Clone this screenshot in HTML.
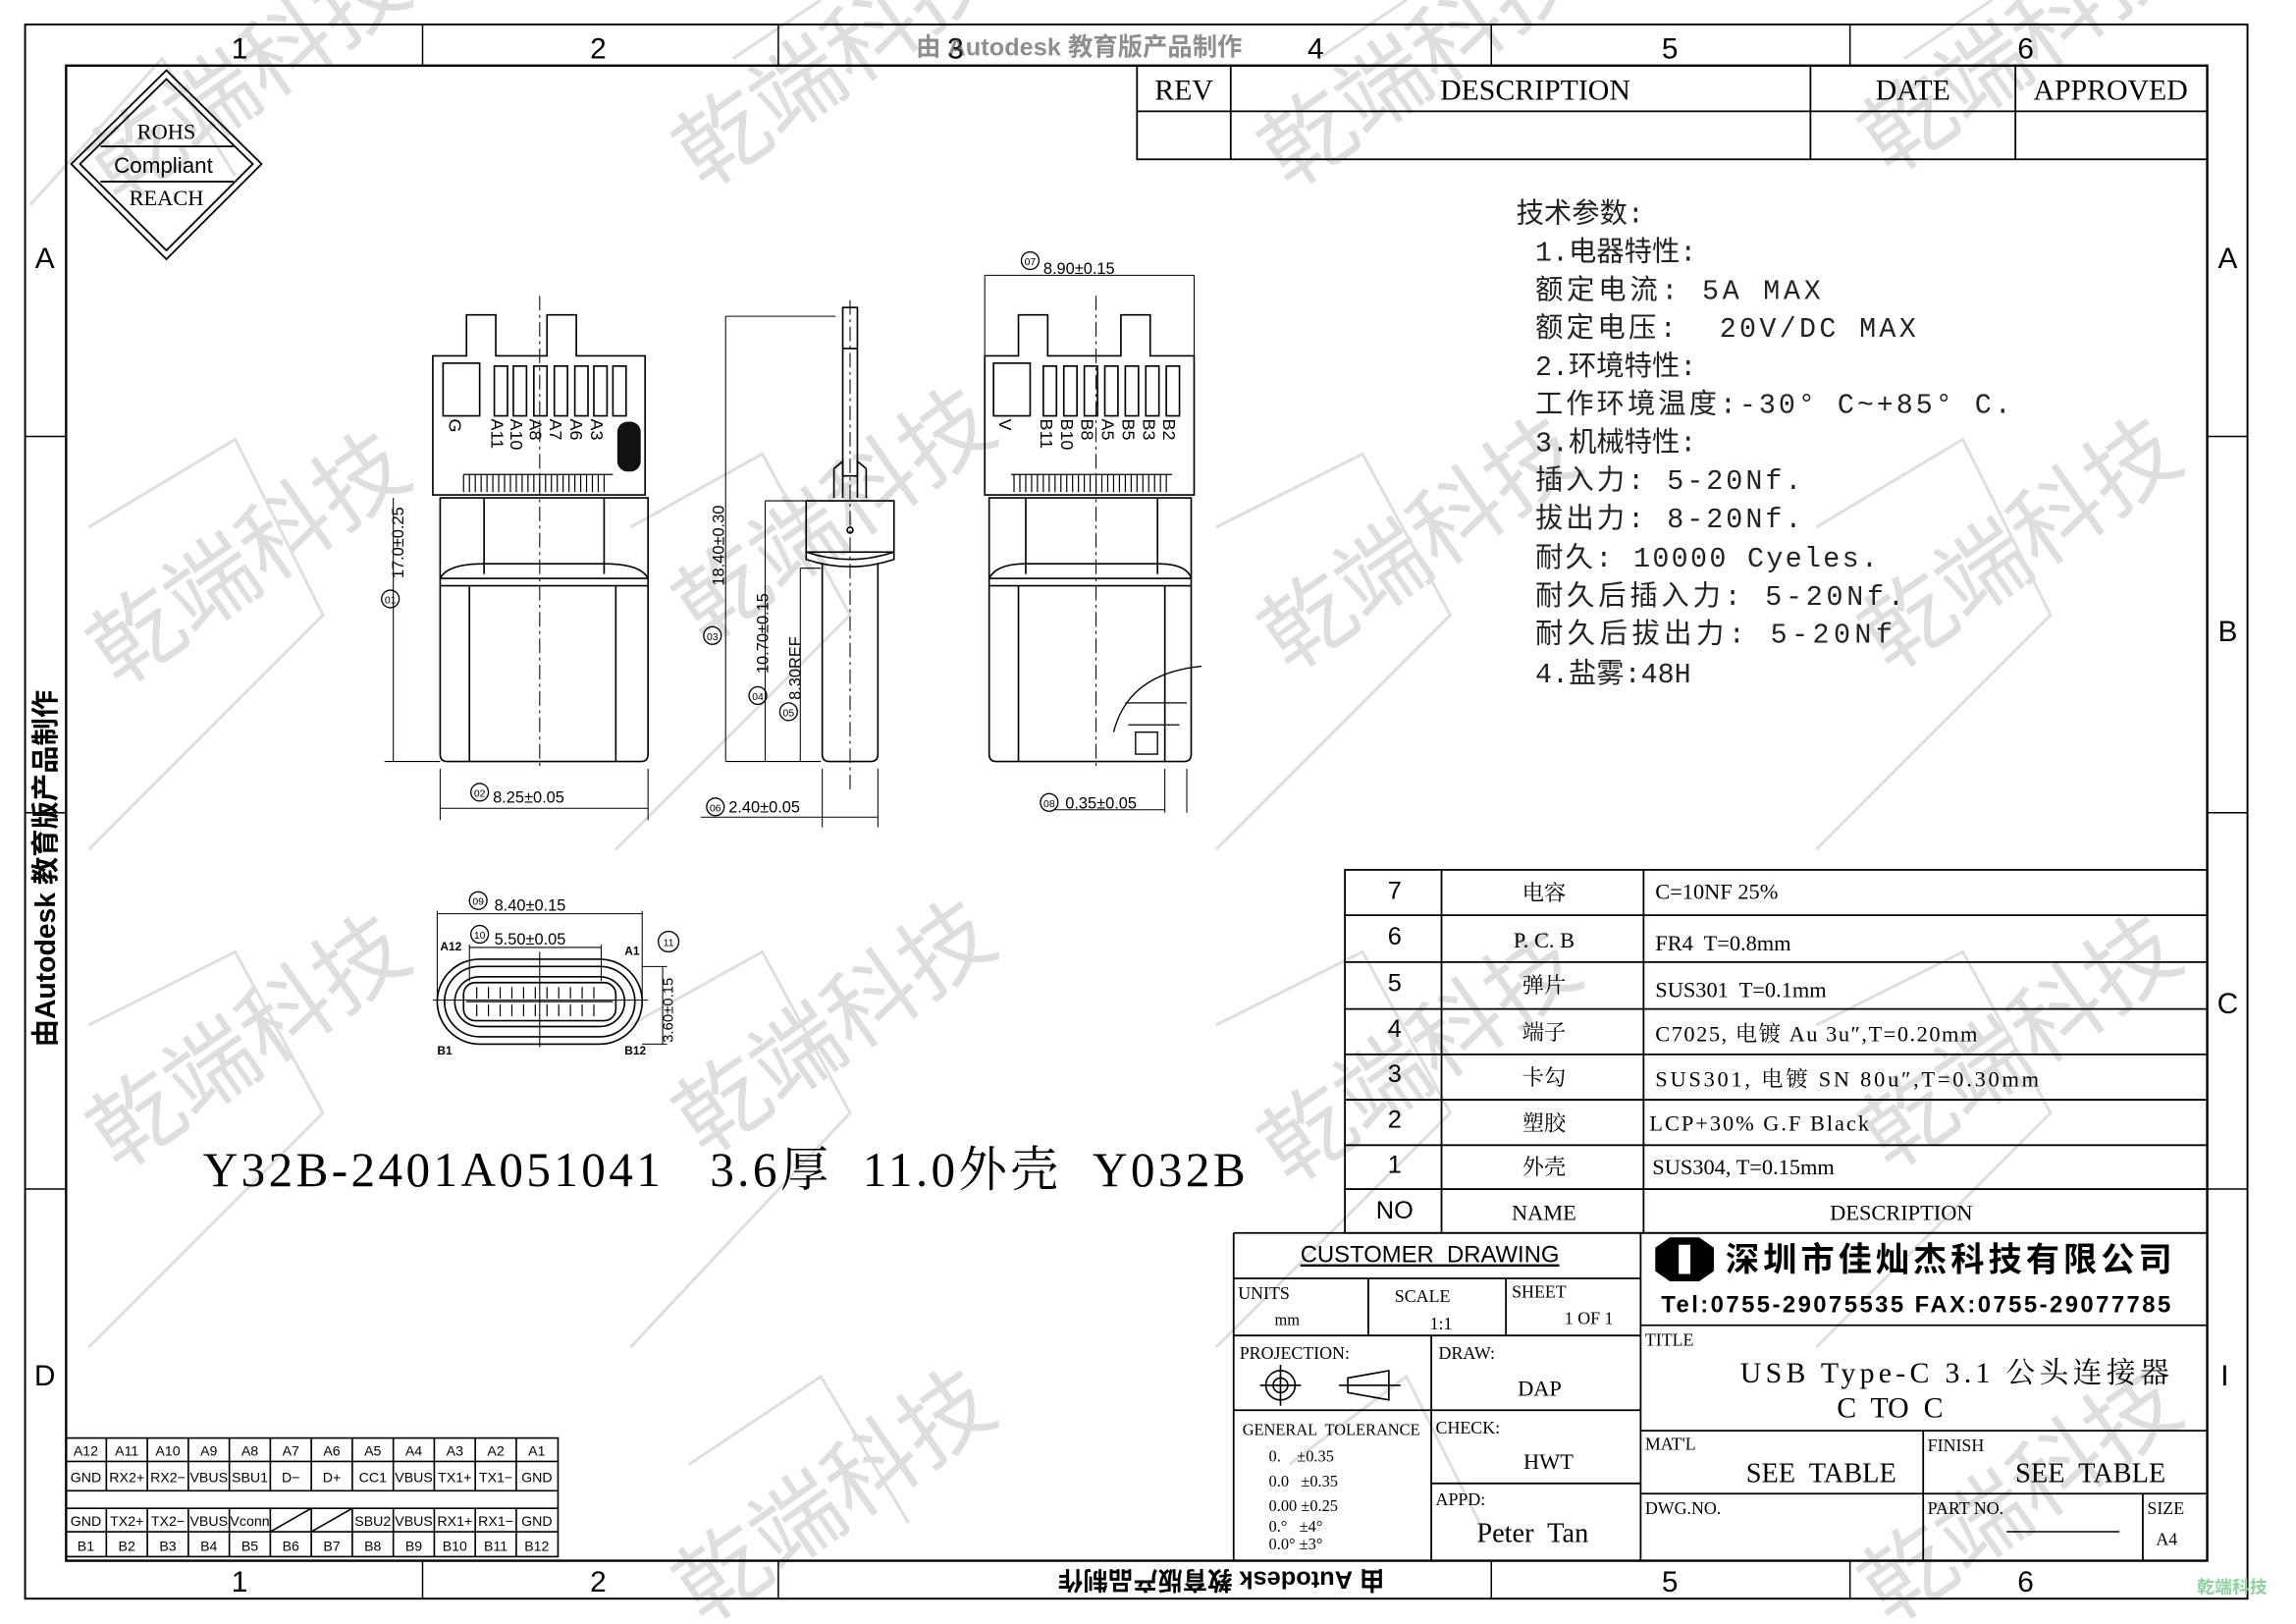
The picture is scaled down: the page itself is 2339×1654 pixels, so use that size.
<!DOCTYPE html>
<html><head><meta charset="utf-8"><style>
html,body{margin:0;padding:0;background:#fff;}
svg{display:block;}
svg text{white-space:pre;}
.s{font-family:"Liberation Serif","Noto Serif CJK SC",serif;}
.a{font-family:"Liberation Sans","Noto Sans CJK SC",sans-serif;}
.m{font-family:"Liberation Mono","Noto Sans CJK SC",monospace;}
</style></head><body>
<svg width="2339" height="1654" viewBox="0 0 1567 1109" xmlns="http://www.w3.org/2000/svg" xml:space="preserve">
<rect width="1567" height="1109" fill="#fff"/>
<g fill="#dedede" font-family="Noto Sans CJK SC,sans-serif" font-size="62">
<text transform="translate(80,470) rotate(-35)">乾端科技</text>
<text transform="translate(480,440) rotate(-35)">乾端科技</text>
<text transform="translate(880,460) rotate(-35)">乾端科技</text>
<text transform="translate(1290,460) rotate(-35)">乾端科技</text>
<text transform="translate(80,800) rotate(-35)">乾端科技</text>
<text transform="translate(480,790) rotate(-35)">乾端科技</text>
<text transform="translate(880,810) rotate(-35)">乾端科技</text>
<text transform="translate(1290,800) rotate(-35)">乾端科技</text>
<text transform="translate(80,140) rotate(-35)">乾端科技</text>
<text transform="translate(480,130) rotate(-35)">乾端科技</text>
<text transform="translate(880,130) rotate(-35)">乾端科技</text>
<text transform="translate(1290,120) rotate(-35)">乾端科技</text>
<text transform="translate(480,1110) rotate(-35)">乾端科技</text>
<text transform="translate(1290,1110) rotate(-35)">乾端科技</text>
</g>
<g stroke="#dedede" stroke-width="2" fill="none">
<path d="M20,140 L110,40 L160,120 M60,360 L160,300 L220,420 L60,580"/>
<path d="M430,360 L520,310 L580,420 L420,580 M500,40 L560,0"/>
<path d="M830,360 L930,310 L990,420 L830,580 M900,40 L960,0"/>
<path d="M1240,360 L1340,300 L1400,420 L1240,580 M1300,40 L1360,0"/>
<path d="M60,700 L160,650 L220,760 L60,920 M430,700 L520,650 L580,760 L430,920"/>
<path d="M830,700 L930,650 L990,760 L830,920 M1240,700 L1340,650 L1400,760 L1240,920"/>
<path d="M470,1000 L560,940 L620,1040 M880,1000 L960,940 L1010,1040"/>
</g>

<g fill="none" stroke="#000">
<rect x="16.5" y="16.7" width="1518" height="1075" stroke-width="1.3"/>
<rect x="44.5" y="44.8" width="1462.5" height="1021" stroke-width="1.6"/>
<path d="M288,17V45 M531,17V45 M1018,17V45 M1263,17V45 M288,1066V1092 M531,1066V1092 M1018,1066V1092 M1263,1066V1092" stroke-width="1"/>
<path d="M17,298H45 M17,555H45 M17,812H45 M1507,298H1535 M1507,555H1535 M1507,812H1535" stroke-width="1"/>
</g>
<g class="a" font-size="20" fill="#000" text-anchor="middle">
<text x="163" y="40">1</text><text x="408" y="40">2</text><text x="652" y="40">3</text><text x="898" y="40">4</text><text x="1140" y="40">5</text><text x="1383" y="40">6</text>
<text x="163" y="1087">1</text><text x="408" y="1087">2</text><text x="1140" y="1087">5</text><text x="1383" y="1087">6</text>
<text x="30" y="183">A</text><text x="30" y="946">D</text>
<text x="1521" y="183">A</text><text x="1521" y="438">B</text><text x="1521" y="692">C</text><text x="1519" y="946">I</text>
</g>
<g class="a" font-weight="bold" fill="#000" font-size="19">
<text transform="translate(37,715) rotate(-90)">由Autodesk 教育版产品制作</text>
<text x="625" y="38" font-size="17" fill="#444" opacity="0.6">由 Autodesk 教育版产品制作</text>
<text transform="translate(945,1073) rotate(180)" font-size="17">由 Autodesk 教育版产品制作</text>
</g>
<text x="1500" y="1088" class="a" font-size="12" fill="#8fd0a0" font-weight="bold">乾端科技</text>

<g fill="none" stroke="#000" stroke-width="1.2">
<path d="M113,48 L178,112 L113,177 L48,112Z"/><path d="M113,54 L172,112 L113,171 L54,112Z"/>
<path d="M68,100H159 M68,124H159"/>
</g>
<g class="s" font-size="15" text-anchor="middle"><text x="113" y="95">ROHS</text><text x="113" y="140">REACH</text></g>
<text x="111" y="118" class="a" font-size="15" text-anchor="middle">Compliant</text>

<g fill="none" stroke="#000" stroke-width="1.2">
<rect x="776" y="44.8" width="731" height="64"/>
<path d="M776,76H1507 M840,45V109 M1236,45V109 M1376,45V109"/>
</g>
<g class="s" font-size="20" text-anchor="middle">
<text x="808" y="68">REV</text><text x="1048" y="68">DESCRIPTION</text><text x="1306" y="68">DATE</text><text x="1441" y="68">APPROVED</text>
</g>

<g class="m" font-size="19" fill="#222">
<text x="1035" y="152">技术参数:</text>
<text x="1048" y="178">1.电器特性:</text>
<text x="1048" y="204" textLength="195">额定电流: 5A MAX</text>
<text x="1048" y="230" textLength="260">额定电压:  20V/DC MAX</text>
<text x="1048" y="256">2.环境特性:</text>
<text x="1048" y="282" textLength="325">工作环境温度:-30° C~+85° C.</text>
<text x="1048" y="308">3.机械特性:</text>
<text x="1048" y="334" textLength="182">插入力: 5-20Nf.</text>
<text x="1048" y="360" textLength="182">拔出力: 8-20Nf.</text>
<text x="1048" y="387" textLength="234">耐久: 10000 Cyeles.</text>
<text x="1048" y="413" textLength="252">耐久后插入力: 5-20Nf.</text>
<text x="1048" y="439" textLength="244">耐久后拔出力: 5-20Nf</text>
<text x="1048" y="466">4.盐雾:48H</text>
</g>

<g fill="none" stroke="#000" stroke-width="1.2">
<rect x="918" y="594" width="589" height="248"/>
<path d="M918,625H1507 M918,657H1507 M918,689H1507 M918,720H1507 M918,751H1507 M918,782H1507 M918,812H1507 M984,594V842 M1122,594V842"/>
</g>
<g class="a" font-size="17" text-anchor="middle">
<text x="952" y="614">7</text><text x="952" y="645">6</text><text x="952" y="677">5</text><text x="952" y="708">4</text><text x="952" y="739">3</text><text x="952" y="770">2</text><text x="952" y="801">1</text><text x="952" y="832">NO</text>
</g>
<g class="s" font-size="15" text-anchor="middle">
<text x="1054" y="615">电容</text><text x="1054" y="647">P. C. B</text><text x="1054" y="678">弹片</text><text x="1054" y="710">端子</text><text x="1054" y="741">卡勾</text><text x="1054" y="772">塑胶</text><text x="1054" y="802">外壳</text><text x="1054" y="833">NAME</text>
<text x="1298" y="833">DESCRIPTION</text>
</g>
<g class="s" font-size="15">
<text x="1130" y="614">C=10NF 25%</text><text x="1130" y="649">FR4  T=0.8mm</text><text x="1130" y="681">SUS301  T=0.1mm</text>
<text x="1130" y="711" textLength="220">C7025, 电镀 Au 3u″,T=0.20mm</text><text x="1130" y="742" textLength="262">SUS301, 电镀 SN 80u″,T=0.30mm</text>
<text x="1126" y="772" textLength="150">LCP+30% G.F Black</text><text x="1128" y="802">SUS304, T=0.15mm</text>
</g>

<g fill="none" stroke="#000" stroke-width="1.2">
<path d="M842,842H1507 M842,842V1066 M1120,842V1066 M842,873H1120 M842,912H1120 M934,873V912 M1028,873V912 M842,963H1120 M977,912V1066 M977,1013H1120 M1120,905H1507 M1120,977H1507 M1120,1020H1507 M1313,977V1066 M1463,1020V1066"/>
<path d="M1370,1046H1447" stroke-width="1"/>
</g>
<text x="976" y="862" class="a" font-size="16" text-anchor="middle" text-decoration="underline">CUSTOMER  DRAWING</text>
<g class="s" font-size="12">
<text x="845" y="887">UNITS</text><text x="870" y="905" font-size="11">mm</text>
<text x="952" y="889">SCALE</text><text x="976" y="908">1:1</text>
<text x="1032" y="886">SHEET</text><text x="1068" y="904">1 OF 1</text>
<text x="846" y="928">PROJECTION:</text><text x="982" y="928">DRAW:</text><text x="1036" y="953" font-size="15">DAP</text>
<text x="848" y="980" font-size="11">GENERAL  TOLERANCE</text>
<text x="866" y="998" font-size="11">0.    ±0.35</text><text x="866" y="1015" font-size="11">0.0   ±0.35</text>
<text x="866" y="1032" font-size="11">0.00 ±0.25</text><text x="866" y="1046" font-size="11">0.°   ±4°</text><text x="866" y="1058" font-size="11">0.0° ±3°</text>
<text x="980" y="979">CHECK:</text><text x="1040" y="1003" font-size="15">HWT</text>
<text x="980" y="1028">APPD:</text><text x="1008" y="1053" font-size="19">Peter  Tan</text>
<text x="1123" y="919">TITLE</text><text x="1123" y="990">MAT'L</text><text x="1316" y="991">FINISH</text>
<text x="1123" y="1034">DWG.NO.</text><text x="1316" y="1034">PART NO.</text><text x="1466" y="1034">SIZE</text><text x="1472" y="1055">A4</text>
<text x="1192" y="1012" font-size="19">SEE  TABLE</text><text x="1376" y="1012" font-size="19">SEE  TABLE</text>
<text x="1188" y="944" font-size="20" textLength="293">USB Type-C 3.1 公头连接器</text><text x="1254" y="968" font-size="20">C  TO  C</text>
</g>
<g fill="none" stroke="#000" stroke-width="1.1">
<circle cx="874" cy="946" r="10"/><circle cx="874" cy="946" r="5"/><path d="M860,946H888 M874,932V960 M914,946H956 M920,941L948,936V956L920,951Z"/>
</g>
<path d="M1130,852 L1140,845 L1160,845 L1170,852 L1170,868 L1160,875 L1140,875 L1130,868Z" fill="#000"/>
<path d="M1146,850 L1154,850 L1154,870 L1146,870Z" fill="#fff"/>
<text x="1178" y="868" font-family="Noto Sans CJK SC,sans-serif" font-size="23" font-weight="bold" textLength="305">深圳市佳灿杰科技有限公司</text>
<text x="1134" y="896" class="a" font-size="16" font-weight="bold" textLength="348">Tel:0755-29075535 FAX:0755-29077785</text>

<g fill="none" stroke="#000" stroke-width="1.1">
<rect x="44.5" y="982" width="336" height="81"/>
<path d="M44,998H380 M44,1018H380 M44,1030H380 M44,1046H380"/>
<path d="M72,982V1018 M100,982V1018 M128,982V1018 M156,982V1018 M184,982V1018 M212,982V1018 M240,982V1018 M268,982V1018 M296,982V1018 M324,982V1018 M352,982V1018"/>
<path d="M72,1030V1063 M100,1030V1063 M128,1030V1063 M156,1030V1063 M184,1030V1063 M212,1030V1063 M240,1030V1063 M268,1030V1063 M296,1030V1063 M324,1030V1063 M352,1030V1063"/>
<path d="M184,1046L212,1030 M212,1046L240,1030"/>
</g>
<g class="a" font-size="9.5" text-anchor="middle">
<text x="58" y="994">A12</text><text x="86" y="994">A11</text><text x="114" y="994">A10</text><text x="142" y="994">A9</text><text x="170" y="994">A8</text><text x="198" y="994">A7</text><text x="226" y="994">A6</text><text x="254" y="994">A5</text><text x="282" y="994">A4</text><text x="310" y="994">A3</text><text x="338" y="994">A2</text><text x="366" y="994">A1</text>
<text x="58" y="1012">GND</text><text x="86" y="1012">RX2+</text><text x="114" y="1012">RX2−</text><text x="142" y="1012">VBUS</text><text x="170" y="1012">SBU1</text><text x="198" y="1012">D−</text><text x="226" y="1012">D+</text><text x="254" y="1012">CC1</text><text x="282" y="1012">VBUS</text><text x="310" y="1012">TX1+</text><text x="338" y="1012">TX1−</text><text x="366" y="1012">GND</text>
<text x="58" y="1042">GND</text><text x="86" y="1042">TX2+</text><text x="114" y="1042">TX2−</text><text x="142" y="1042">VBUS</text><text x="170" y="1042">Vconn</text><text x="254" y="1042">SBU2</text><text x="282" y="1042">VBUS</text><text x="310" y="1042">RX1+</text><text x="338" y="1042">RX1−</text><text x="366" y="1042">GND</text>
<text x="58" y="1059">B1</text><text x="86" y="1059">B2</text><text x="114" y="1059">B3</text><text x="142" y="1059">B4</text><text x="170" y="1059">B5</text><text x="198" y="1059">B6</text><text x="226" y="1059">B7</text><text x="254" y="1059">B8</text><text x="282" y="1059">B9</text><text x="310" y="1059">B10</text><text x="338" y="1059">B11</text><text x="366" y="1059">B12</text>
</g>

<text x="138" y="810" class="s" font-size="33" textLength="712">Y32B-2401A051041   3.6厚  11.0外壳  Y032B</text>

<g fill="none" stroke="#000" stroke-width="1.1">
<path d="M295,243 H318 V215 H338 V243 H373 V215 H393 V243 H440 V338 H295Z"/>
<rect x="302" y="248" width="25" height="36"/>
<rect x="337" y="250" width="9" height="34"/><rect x="350" y="250" width="9" height="34"/><rect x="364" y="250" width="9" height="34"/><rect x="378" y="250" width="9" height="34"/><rect x="392" y="250" width="9" height="34"/><rect x="405" y="250" width="9" height="34"/><rect x="418" y="250" width="9" height="34"/>
<path d="M316,324 V336 M320,324V336 M324,324V336 M328,324V336 M332,324V336 M336,324V336 M340,324V336 M344,324V336 M348,324V336 M352,324V336 M356,324V336 M360,324V336 M364,324V336 M368,324V336 M372,324V336 M376,324V336 M380,324V336 M384,324V336 M388,324V336 M392,324V336 M396,324V336 M400,324V336 M404,324V336 M408,324V336 M412,324V336 M316,324H418" stroke-width="0.8"/>
<rect x="300" y="340" width="142" height="55"/><path d="M330,340V392 M412,340V392"/>
<path d="M300,395 Q305,385 330,385 H412 Q437,385 442,395 V515 Q442,520 437,520 H305 Q300,520 300,515Z"/>
<path d="M300,400H442 M320,400V520 M420,400V520"/>
<path d="M368,202 V525" stroke-dasharray="10,3,2,3" stroke-width="0.7"/>
<path d="M268,340V520 M262,520H300 M300,525V560 M442,525V560 M300,552H442" stroke-width="0.7"/>
</g>
<rect x="421" y="288" width="16" height="34" rx="7" fill="#111"/>
<g class="a" font-size="12" text-anchor="start">
<text transform="translate(306,286) rotate(90)">G</text>
<text transform="translate(335,286) rotate(90)">A11</text><text transform="translate(348,286) rotate(90)">A10</text><text transform="translate(361,286) rotate(90)">A8</text><text transform="translate(375,286) rotate(90)">A7</text><text transform="translate(389,286) rotate(90)">A6</text><text transform="translate(403,286) rotate(90)">A3</text>
<text transform="translate(275,395) rotate(-90)" font-size="11">17.0±0.25</text>
<text x="336" y="548" font-size="11">8.25±0.05</text>
</g>
<g fill="none" stroke="#000" stroke-width="0.9"><circle cx="266" cy="409" r="6"/><circle cx="327" cy="541" r="6"/></g>
<g class="a" font-size="7" text-anchor="middle"><text x="266" y="412">01</text><text x="327" y="544">02</text></g>

<g fill="none" stroke="#000" stroke-width="1.1">
<rect x="575" y="210" width="10" height="115"/><path d="M575,238H585"/>
<path d="M569,320 L575,315 V340 M591,320 L585,315 V340 M569,320V340 M591,320V340"/>
<rect x="550" y="342" width="60" height="35"/>
<path d="M550,377 Q580,387 610,377 V382 Q580,392 550,382Z"/>
<path d="M561,385 V515 Q561,520 566,520 H594 Q599,520 599,515 V385"/>
<circle cx="580" cy="362" r="2"/>
<path d="M580,205V540" stroke-dasharray="10,3,2,3" stroke-width="0.7"/>
<path d="M495,216H570 M495,216V520 M495,520H560 M522,342H550 M522,342V520 M546,388H560 M546,388V520 M561,525V565 M599,525V565 M478,558H599" stroke-width="0.7"/>
</g>
<g class="a" font-size="11">
<text transform="translate(494,400) rotate(-90)">18.40±0.30</text>
<text transform="translate(524,460) rotate(-90)">10.70±0.15</text>
<text transform="translate(546,478) rotate(-90)">8.30REF</text>
<text x="497" y="555">2.40±0.05</text>
</g>
<g fill="none" stroke="#000" stroke-width="0.9"><circle cx="486" cy="434" r="6"/><circle cx="517" cy="475" r="6"/><circle cx="538" cy="486" r="6"/><circle cx="488" cy="551" r="6"/></g>
<g class="a" font-size="7" text-anchor="middle"><text x="486" y="437">03</text><text x="517" y="478">04</text><text x="538" y="489">05</text><text x="488" y="554">06</text></g>

<g fill="none" stroke="#000" stroke-width="1.1">
<path d="M672,243 H695 V215 H715 V243 H765 V215 H785 V243 H815 V338 H672Z"/>
<rect x="678" y="248" width="25" height="36"/>
<rect x="712" y="250" width="9" height="34"/><rect x="726" y="250" width="9" height="34"/><rect x="740" y="250" width="9" height="34"/><rect x="754" y="250" width="9" height="34"/><rect x="768" y="250" width="9" height="34"/><rect x="782" y="250" width="9" height="34"/><rect x="796" y="250" width="9" height="34"/>
<path d="M690,324H800 M692,324V336 M696,324V336 M700,324V336 M704,324V336 M708,324V336 M712,324V336 M716,324V336 M720,324V336 M724,324V336 M728,324V336 M732,324V336 M736,324V336 M740,324V336 M744,324V336 M748,324V336 M752,324V336 M756,324V336 M760,324V336 M764,324V336 M768,324V336 M772,324V336 M776,324V336 M780,324V336 M784,324V336 M788,324V336 M792,324V336 M796,324V336" stroke-width="0.8"/>
<rect x="675" y="340" width="138" height="55"/><path d="M700,340V392 M790,340V392"/>
<path d="M675,395 Q680,385 700,385 H790 Q810,385 813,395 V515 Q813,520 808,520 H680 Q675,520 675,515Z"/>
<path d="M675,400H813 M695,400V520 M795,400V520"/>
<path d="M760,500 Q770,460 820,455 M768,480H810 M770,495H805 M775,500H790V515H775Z" stroke-width="0.9"/>
<path d="M748,202V525" stroke-dasharray="10,3,2,3" stroke-width="0.7"/>
<path d="M672,188H815 M672,188V243 M815,188V243 M795,525V555 M810,525V555 M720,553H795" stroke-width="0.7"/>
</g>
<g class="a" font-size="12">
<text transform="translate(682,286) rotate(90)">V</text>
<text transform="translate(710,286) rotate(90)">B11</text><text transform="translate(724,286) rotate(90)">B10</text><text transform="translate(738,286) rotate(90)">B8</text><text transform="translate(752,286) rotate(90)">A5</text><text transform="translate(766,286) rotate(90)">B5</text><text transform="translate(780,286) rotate(90)">B3</text><text transform="translate(794,286) rotate(90)">B2</text>
<text x="712" y="187" font-size="11">8.90±0.15</text><text x="727" y="552" font-size="11">0.35±0.05</text>
</g>
<g fill="none" stroke="#000" stroke-width="0.9"><circle cx="703" cy="178" r="6"/><circle cx="716" cy="548" r="6"/></g>
<g class="a" font-size="7" text-anchor="middle"><text x="703" y="181">07</text><text x="716" y="551">08</text></g>

<g fill="none" stroke="#000" stroke-width="1.1">
<rect x="298" y="655" width="140" height="58" rx="29"/>
<rect x="303" y="660" width="130" height="48" rx="24"/>
<rect x="310" y="667" width="116" height="34" rx="17"/>
<rect x="316" y="671" width="104" height="26" rx="8"/>
<path d="M318,684H418" stroke-width="0.8"/>
<path d="M325,674v8 M333,674v8 M341,674v8 M349,674v8 M357,674v8 M365,674v8 M373,674v8 M381,674v8 M389,674v8 M397,674v8 M405,674v8 M325,686v8 M333,686v8 M341,686v8 M349,686v8 M357,686v8 M365,686v8 M373,686v8 M381,686v8 M389,686v8 M397,686v8 M405,686v8" stroke-width="0.8"/>
<path d="M298,622V683 M438,622V683 M298,624H438 M320,645V670 M410,645V670 M320,647H410 M438,660H455 M438,713H455 M452,660V713 M295,683H442 M368,650V715" stroke-width="0.7"/>
</g>
<g class="a" font-size="11">
<text x="337" y="622">8.40±0.15</text><text x="337" y="645">5.50±0.05</text>
<text transform="translate(459,712) rotate(-90)" font-size="10">3.60±0.15</text>
</g>
<g class="a" font-size="8" font-weight="bold"><text x="300" y="649">A12</text><text x="426" y="652">A1</text><text x="298" y="720">B1</text><text x="426" y="720">B12</text></g>
<g fill="none" stroke="#000" stroke-width="0.9"><circle cx="326" cy="615" r="6"/><circle cx="327" cy="638" r="6"/><circle cx="456" cy="643" r="7"/></g>
<g class="a" font-size="7" text-anchor="middle"><text x="326" y="618">09</text><text x="327" y="641">10</text><text x="456" y="646">11</text></g>
</svg>
</body></html>
